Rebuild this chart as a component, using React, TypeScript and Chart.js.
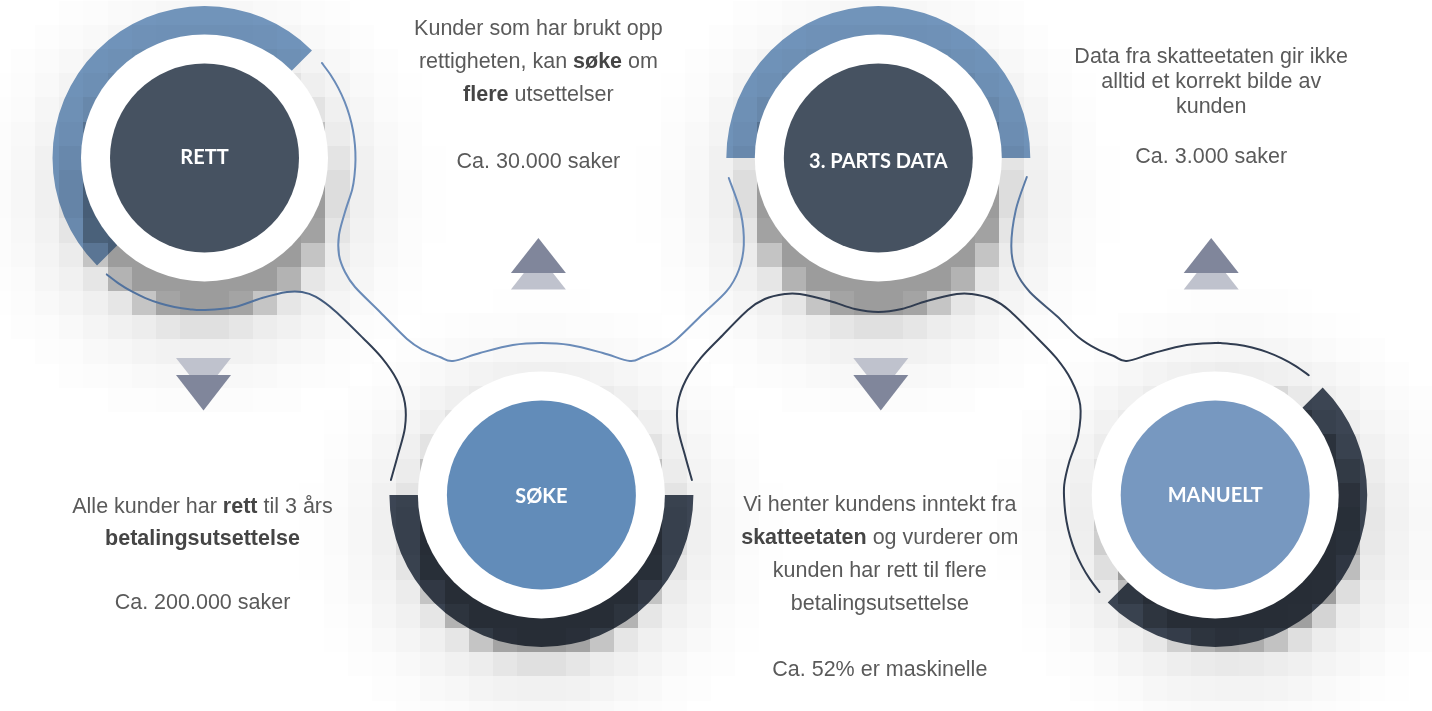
import React, { useEffect, useRef } from 'react';
import { Chart, registerables } from 'chart.js';

Chart.register(...registerables);

// ---------- data ----------
const steps = ['RETT', 'SØKE', '3. PARTS DATA', 'MANUELT'];
const stepIndex = [0, 1, 2, 3];
const levels = [1, 0, 1, 0];
const caseLabels = ['Ca. 200.000 saker', 'Ca. 30.000 saker', 'Ca. 52% er maskinelle', 'Ca. 3.000 saker'];

const descRett = [
  [['Alle kunder har ', false], ['rett', true], [' til 3 års', false]],
  [['betalingsutsettelse', true]],
];
const descSoke = [
  [['Kunder som har brukt opp', false]],
  [['rettigheten, kan ', false], ['søke', true], [' om', false]],
  [['flere', true], [' utsettelser', false]],
];
const descParts = [
  [['Vi henter kundens inntekt fra', false]],
  [['skatteetaten', true], [' og vurderer om', false]],
  [['kunden har rett til flere', false]],
  [['betalingsutsettelse', false]],
];
const descManuelt = [
  [['Data fra skatteetaten gir ikke', false]],
  [['alltid et korrekt bilde av', false]],
  [['kunden', false]],
];
const descriptions = [descRett, descSoke, descParts, descManuelt];

// ---------- layout / style ----------
const X_MIN = -0.607;
const X_MAX = 3.6435;
const Y_MAX = 1.4688;
const Y_MIN = -0.641;

const R_INNER = 94.5;
const R_WHITE = 123.5;
const R_OUT = 152;

const innerColors = ['#465261', '#628cb9', '#465261', '#7798c0'];
const ringColors = ['#7599c1', '#404a59', '#7599c1', '#404a59'];
const ringStart = [135, 0, 180, -45];
const ringEnd = [315, 180, 360, 135];
const shadowOffsets = [[0, 35], [0, 35], [0, 35], [18, 28]];
const titleDY = [6.5, 8, 10.5, 7.5];

const blockDX = [-2, -3, 1.5, -4];
const blockY = [513.3, 34.5, 510.7, 62.5];
const blockLH = [32, 33.3, 33.1, 25];

const BLUE = '#6a8bb8';
const NAVY = '#303c50';
const TRI_DARK = '#80869b';
const TRI_LIGHT = '#bfc2cd';

// connector paths: [nodeIndex, dx, dy] or ['arc', node, r, deg0, deg1]
const lineA: any[] = [
  ['arc', 0, 151, -39, 12],
  [0, 140.5, 54], [0, 134.5, 77], [0, 134.5, 97], [0, 140.5, 114], [0, 150.5, 129],
  [0, 175.5, 154], [0, 202.5, 181],
  [1, -118.5, -145], [1, -101.5, -138], [1, -88.5, -134], [1, -61.5, -142], [1, -28.5, -150],
  [1, 0, -152], [1, 28.5, -150], [1, 61.5, -142], [1, 88.5, -134], [1, 101.5, -138], [1, 118.5, -145],
  [2, -202.5, 182], [2, -175.5, 156], [2, -151.5, 133], [2, -139.5, 112], [2, -134.5, 87],
  [2, -137.5, 55], [2, -149.5, 20],
];
const lineB: any[] = [
  ['arc', 0, 152, 130, 90],
  [0, 30.5, 149], [0, 57.5, 140], [0, 82.5, 134], [0, 97.5, 134], [0, 111.5, 139], [0, 130.5, 153],
  [1, -178.5, -157], [1, -159.5, -137], [1, -144.5, -115], [1, -136.5, -92], [1, -136.5, -67],
  [1, -143.5, -40], [1, -150.5, -15],
];
const lineC: any[] = [
  [1, 150.5, -15], [1, 143.5, -40], [1, 136.5, -67], [1, 136.5, -92], [1, 144.5, -115],
  [1, 159.5, -137], [1, 178.5, -157],
  [2, -130.5, 152], [2, -113.5, 141], [2, -93.5, 136], [2, -78.5, 136], [2, -48.5, 143],
  [2, -23.5, 151], [2, 0, 154], [2, 23.5, 151], [2, 48.5, 143], [2, 78.5, 136], [2, 93.5, 136],
  [2, 113.5, 141], [2, 130.5, 152],
  [3, -178, -157], [3, -159, -137], [3, -144, -115], [3, -135, -90], [3, -137, -60],
  [3, -146, -33], [3, -151, -10],
  ['arc', 3, 151, 176, 140],
];
const lineD: any[] = [
  [2, 148.5, 19], [2, 137.5, 52], [2, 133, 88], [2, 137.5, 113], [2, 151.5, 134], [2, 178.5, 158],
  [3, -137, -158], [3, -118.5, -146], [3, -101.5, -139], [3, -88.5, -134], [3, -61.5, -142],
  [3, -28.5, -150], [3, 0, -152],
  ['arc', 3, 152, -88, -52],
];

const rad = (d: number) => (d * Math.PI) / 180;

function getCenters(chart: any) {
  const xs = chart.scales.x;
  const ys = chart.scales.y;
  return stepIndex.map((s, i) => ({ x: xs.getPixelForValue(s), y: ys.getPixelForValue(levels[i]) }));
}

function buildPath(spec: any[], centers: any[]) {
  const pts: any[] = [];
  for (const item of spec) {
    if (item[0] === 'arc') {
      const [, n, r, a0, a1] = item;
      const k = Math.max(2, Math.ceil(Math.abs(a1 - a0) / 6));
      for (let j = 0; j <= k; j++) {
        const a = rad(a0 + ((a1 - a0) * j) / k);
        pts.push({ x: centers[n].x + r * Math.cos(a), y: centers[n].y + r * Math.sin(a) });
      }
    } else {
      const [n, dx, dy] = item;
      pts.push({ x: centers[n].x + dx, y: centers[n].y + dy });
    }
  }
  return pts;
}

function strokeSmooth(ctx: CanvasRenderingContext2D, pts: any[]) {
  ctx.beginPath();
  ctx.moveTo(pts[0].x, pts[0].y);
  for (let i = 0; i < pts.length - 1; i++) {
    const p0 = pts[i - 1] || pts[i];
    const p1 = pts[i];
    const p2 = pts[i + 1];
    const p3 = pts[i + 2] || p2;
    ctx.bezierCurveTo(
      p1.x + (p2.x - p0.x) / 6, p1.y + (p2.y - p0.y) / 6,
      p2.x - (p3.x - p1.x) / 6, p2.y - (p3.y - p1.y) / 6,
      p2.x, p2.y,
    );
  }
  ctx.stroke();
}

function drawShadow(ctx: CanvasRenderingContext2D, c: any, off: number[]) {
  const cell = 24.2;
  const sx = c.x + off[0];
  const sy = c.y + off[1];
  for (let gy = -10; gy <= 10; gy++) {
    for (let gx = -10; gx <= 10; gx++) {
      const x0 = c.x + gx * cell;
      const y0 = c.y + (gy - 0.5) * cell;
      const cx = x0 + cell / 2;
      const cy = y0 + cell / 2;
      const s = Math.max(Math.hypot(cx - sx, cy - sy) - 110, 0);
      const a = 0.3 * Math.exp(-((s / 18) ** 2)) + 0.09 * Math.exp(-((s / 70) ** 2));
      if (a < 0.004) continue;
      const l = Math.round(x0);
      const t = Math.round(y0);
      ctx.fillStyle = `rgba(0,0,0,${a.toFixed(3)})`;
      ctx.fillRect(l, t, Math.round(x0 + cell) - l, Math.round(y0 + cell) - t);
    }
  }
}

function drawTriangle(ctx: CanvasRenderingContext2D, cx: number, baseY: number, apexY: number, color: string) {
  ctx.beginPath();
  ctx.moveTo(cx - 27.5, baseY);
  ctx.lineTo(cx + 27.5, baseY);
  ctx.lineTo(cx, apexY);
  ctx.closePath();
  ctx.fillStyle = color;
  ctx.fill();
}

const bodyFont = (b: boolean) => `${b ? 'bold ' : ''}21.5px "Liberation Sans", Arial, sans-serif`;

function drawRich(ctx: CanvasRenderingContext2D, lines: any[], cx: number, y0: number, lh: number) {
  ctx.textAlign = 'left';
  ctx.textBaseline = 'alphabetic';
  lines.forEach((segs: any[], li: number) => {
    if (!segs.length) return;
    const y = y0 + li * lh;
    let total = 0;
    const widths = segs.map(([t, b]: any) => {
      ctx.font = bodyFont(b);
      const w = ctx.measureText(t).width;
      total += w;
      return w;
    });
    let x = cx - total / 2;
    segs.forEach(([t, b]: any, k: number) => {
      ctx.font = bodyFont(b);
      ctx.fillStyle = b ? '#454545' : '#5a5a5a';
      ctx.fillText(t, x, y);
      x += widths[k];
    });
  });
}

const infographicPlugin = {
  id: 'infographic',
  beforeDatasetsDraw(chart: any) {
    const ctx: CanvasRenderingContext2D = chart.ctx;
    const centers = getCenters(chart);
    ctx.save();
    ctx.fillStyle = '#ffffff';
    ctx.fillRect(0, 0, chart.width, chart.height);
    centers.forEach((c, i) => {
      ctx.beginPath();
      ctx.arc(c.x, c.y, R_OUT, rad(ringStart[i]), rad(ringEnd[i]));
      ctx.arc(c.x, c.y, R_WHITE - 3, rad(ringEnd[i]), rad(ringStart[i]), true);
      ctx.closePath();
      ctx.fillStyle = ringColors[i];
      ctx.fill();
    });
    centers.forEach((c, i) => drawShadow(ctx, c, shadowOffsets[i]));
    centers.forEach((c) => {
      ctx.beginPath();
      ctx.arc(c.x, c.y, R_WHITE, 0, Math.PI * 2);
      ctx.fillStyle = '#ffffff';
      ctx.fill();
    });
    ctx.restore();
  },
  afterDatasetsDraw(chart: any) {
    const ctx: CanvasRenderingContext2D = chart.ctx;
    const centers = getCenters(chart);
    ctx.save();
    // titles
    ctx.fillStyle = '#ffffff';
    ctx.font = 'bold 20px Lato, "Open Sans", sans-serif';
    ctx.textAlign = 'center';
    ctx.textBaseline = 'alphabetic';
    centers.forEach((c, i) => ctx.fillText(steps[i], c.x, c.y + titleDY[i]));

    // connectors
    ctx.lineWidth = 2;
    ctx.lineCap = 'round';
    ctx.lineJoin = 'round';
    ctx.strokeStyle = BLUE;
    strokeSmooth(ctx, buildPath(lineA, centers));

    const gB = ctx.createLinearGradient(centers[0].x + 60, centers[0].y + 140, centers[0].x + 175, centers[0].y + 185);
    gB.addColorStop(0, '#51729e');
    gB.addColorStop(1, NAVY);
    ctx.strokeStyle = gB;
    strokeSmooth(ctx, buildPath(lineB, centers));

    ctx.strokeStyle = NAVY;
    strokeSmooth(ctx, buildPath(lineC, centers));

    const gD = ctx.createLinearGradient(centers[2].x + 135, centers[2].y + 80, centers[2].x + 205, centers[2].y + 185);
    gD.addColorStop(0, '#5b7ca8');
    gD.addColorStop(1, NAVY);
    ctx.strokeStyle = gD;
    strokeSmooth(ctx, buildPath(lineD, centers));

    // triangles and texts
    centers.forEach((c, i) => {
      const tx = c.x + blockDX[i];
      if (levels[i] === 1) {
        drawTriangle(ctx, tx + 1, c.y + 200, c.y + 235, TRI_LIGHT);
        drawTriangle(ctx, tx + 1, c.y + 217, c.y + 252.5, TRI_DARK);
      } else {
        drawTriangle(ctx, tx, c.y - 205.5, c.y - 240.5, TRI_LIGHT);
        drawTriangle(ctx, tx, c.y - 222, c.y - 257, TRI_DARK);
      }
      const lines = [...descriptions[i], [], [[caseLabels[i], false]]];
      drawRich(ctx, lines, tx, blockY[i], blockLH[i]);
    });
    ctx.restore();
  },
};

export default function App() {
  const ref = useRef<HTMLCanvasElement | null>(null);
  useEffect(() => {
    document.body.style.margin = '0';
    document.body.style.background = '#ffffff';
    const canvas = ref.current;
    if (!canvas) return;
    const chart = new Chart(canvas, {
      type: 'scatter',
      data: {
        datasets: [
          {
            label: 'Steg',
            data: stepIndex.map((x, i) => ({ x, y: levels[i] })),
            pointRadius: R_INNER,
            pointHoverRadius: R_INNER,
            backgroundColor: innerColors,
            pointBackgroundColor: innerColors,
            borderWidth: 0,
            pointBorderWidth: 0,
            clip: false,
          } as any,
        ],
      },
      options: {
        animation: false,
        responsive: false,
        events: [],
        layout: { padding: 0, autoPadding: false },
        scales: {
          x: { type: 'linear', min: X_MIN, max: X_MAX, display: false },
          y: { type: 'linear', min: Y_MIN, max: Y_MAX, display: false },
        },
        plugins: { legend: { display: false }, tooltip: { enabled: false } },
      } as any,
      plugins: [infographicPlugin],
    });
    return () => chart.destroy();
  }, []);
  return <canvas ref={ref} width={1432} height={711} style={{ display: 'block' }} />;
}
